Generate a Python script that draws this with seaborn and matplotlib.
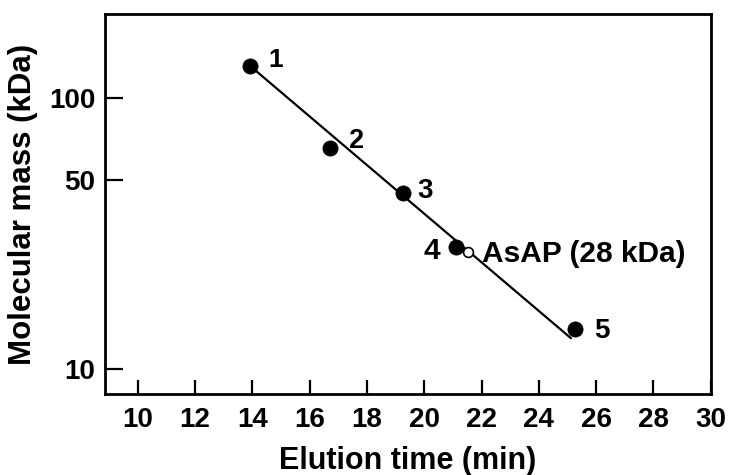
import matplotlib
matplotlib.use("Agg")
import matplotlib.pyplot as plt
import seaborn as sns
import numpy as np
import pandas as pd
from matplotlib.ticker import FixedLocator, NullLocator, FixedFormatter

# ---- data ----
std_labels = ["1", "2", "3", "4", "5"]
std_time = [13.93, 16.72, 19.27, 21.10, 25.27]
std_mass = [131, 65.4, 44.6, 28.2, 14.1]

sample_label = "AsAP (28 kDa)"
sample_time = [21.53]
sample_mass = [27.0]

fit_time = [13.97, 25.12]
fit_mass = [130, 13.0]

x_ticks = [10, 12, 14, 16, 18, 20, 22, 24, 26, 28, 30]
y_ticks = [10, 50, 100]

sns.set_theme(style="white")
plt.rcParams["font.family"] = ["Liberation Sans", "DejaVu Sans"]
plt.rcParams["font.weight"] = "bold"
plt.rcParams["text.color"] = "black"
plt.rcParams["axes.labelcolor"] = "black"
plt.rcParams["xtick.color"] = "black"
plt.rcParams["ytick.color"] = "black"

fig = plt.figure(figsize=(7.35, 4.75), dpi=100)
ax = fig.add_axes([0.1429, 0.1705, 0.967 - 0.1429, 0.9705 - 0.1705])

df_std = pd.DataFrame({"time": std_time, "mass": std_mass, "label": std_labels})
df_fit = pd.DataFrame({"time": fit_time, "mass": fit_mass})
df_s = pd.DataFrame({"time": sample_time, "mass": sample_mass})

sns.lineplot(data=df_fit, x="time", y="mass", ax=ax, color="black", linewidth=1.6, zorder=2)
sns.scatterplot(data=df_std, x="time", y="mass", ax=ax, color="black", s=120,
                edgecolor="black", linewidth=0.5, zorder=3)
sns.scatterplot(data=df_s, x="time", y="mass", ax=ax, facecolor="white", s=50,
                edgecolor="black", linewidth=1.2, zorder=4)

ax.set_yscale("log")
ax.set_xlim(8.86, 30.0)
ax.set_ylim(8.09, 204)

ax.xaxis.set_major_locator(FixedLocator(x_ticks))
ax.set_xticklabels([str(t) for t in x_ticks])
ax.yaxis.set_major_locator(FixedLocator(y_ticks))
ax.yaxis.set_major_formatter(FixedFormatter([str(t) for t in y_ticks]))
ax.yaxis.set_minor_locator(NullLocator())
ax.xaxis.set_minor_locator(NullLocator())

ax.tick_params(axis="x", direction="in", length=10, width=1.6, color="black",
               labelcolor="black", labelsize=20, pad=9, bottom=True)
ax.tick_params(axis="y", direction="in", length=13, width=1.6, color="black",
               labelcolor="black", labelsize=20, pad=7, left=True)
for lab in ax.get_xticklabels() + ax.get_yticklabels():
    lab.set_fontweight("bold")

for sp in ax.spines.values():
    sp.set_visible(True)
    sp.set_color("black")
    sp.set_linewidth(2.0)

ax.set_xlabel("Elution time (min)", fontsize=22, fontweight="bold", labelpad=10, color="black")
ax.set_ylabel("Molecular mass (kDa)", fontsize=22.5, fontweight="bold", labelpad=8, color="black")

# point labels
offsets = {"1": (18, 4.5), "2": (19, 5), "3": (16, 1.5), "4": (-17, -3), "5": (19, -1.5)}
sizes = {"1": 19, "2": 19.5, "3": 20, "4": 21.5, "5": 20}
for lab, t, m in zip(std_labels, std_time, std_mass):
    dx, dy = offsets[lab]
    ax.annotate(lab, (t, m), xytext=(dx, dy), textcoords="offset points",
                fontsize=sizes[lab], fontweight="bold", ha="center", va="center",
                color="black")
ax.annotate(sample_label, (sample_time[0], sample_mass[0]), xytext=(10, -1),
            textcoords="offset points", fontsize=21.5, fontweight="bold",
            ha="left", va="center", color="black")

fig.savefig("out.png", dpi=100)
